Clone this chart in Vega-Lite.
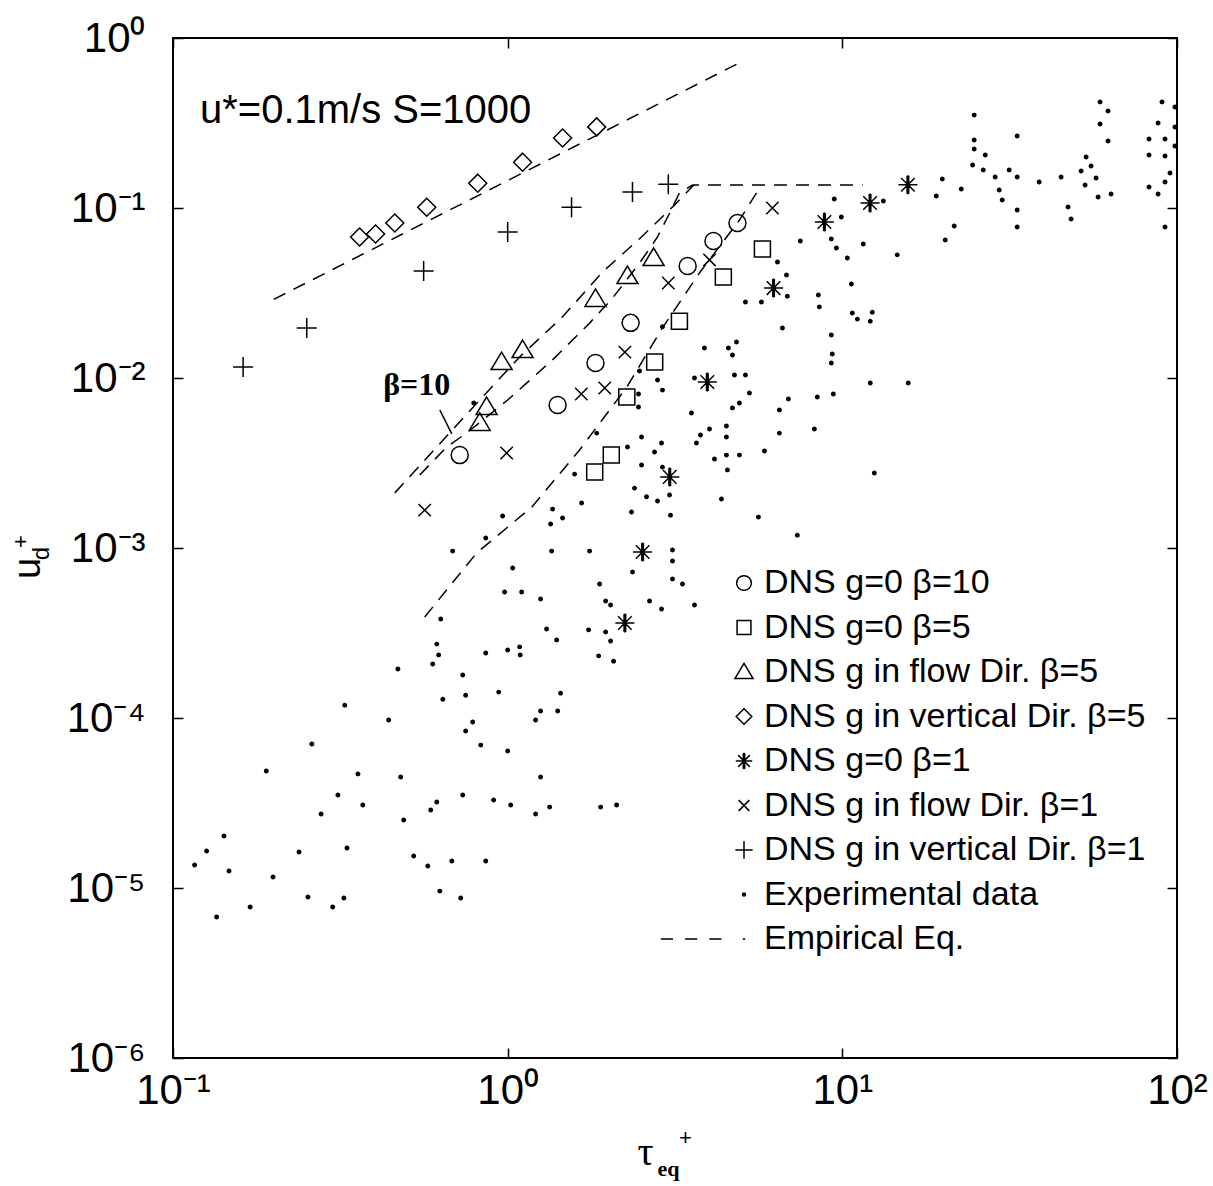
{
  "$schema": "https://vega.github.io/schema/vega-lite/v6.json",
  "width": 1004,
  "height": 1020,
  "autosize": {"type": "none"},
  "padding": {"left": 173, "top": 38, "right": 36, "bottom": 128},
  "background": "white",
  "config": {
    "view": {"stroke": "black", "strokeWidth": 2},
    "font": "Liberation Sans",
    "axis": {"labelColor": "black", "tickColor": "black", "titleColor": "black", "domain": false, "grid": false, "labelFlush": false, "labelOverlap": false, "tickWidth": 1.5}
  },
  "datasets": {
    "lines": [
      {"curve": "A", "tau": 0.2, "u": 0.029},
      {"curve": "A", "tau": 5.1, "u": 0.74},
      {"curve": "B", "tau": 0.46, "u": 0.00211},
      {"curve": "B", "tau": 0.614, "u": 0.00393},
      {"curve": "B", "tau": 0.825, "u": 0.00742},
      {"curve": "B", "tau": 1.086, "u": 0.0133},
      {"curve": "B", "tau": 1.459, "u": 0.0229},
      {"curve": "B", "tau": 1.92, "u": 0.042},
      {"curve": "B", "tau": 2.51, "u": 0.0675},
      {"curve": "B", "tau": 3.15, "u": 0.104},
      {"curve": "B", "tau": 3.6, "u": 0.1365},
      {"curve": "C", "tau": 0.546, "u": 0.00269},
      {"curve": "C", "tau": 0.658, "u": 0.00393},
      {"curve": "C", "tau": 0.76, "u": 0.00481},
      {"curve": "C", "tau": 1.0, "u": 0.00742},
      {"curve": "C", "tau": 1.36, "u": 0.01276},
      {"curve": "C", "tau": 1.76, "u": 0.0211},
      {"curve": "C", "tau": 2.06, "u": 0.0296},
      {"curve": "C", "tau": 2.48, "u": 0.0475},
      {"curve": "C", "tau": 2.79, "u": 0.0666},
      {"curve": "C", "tau": 3.05, "u": 0.0935},
      {"curve": "C", "tau": 3.26, "u": 0.1225},
      {"curve": "C", "tau": 3.57, "u": 0.1365},
      {"curve": "C", "tau": 11.5, "u": 0.1365},
      {"curve": "D", "tau": 0.565, "u": 0.000393},
      {"curve": "D", "tau": 0.808, "u": 0.000935},
      {"curve": "D", "tau": 1.18, "u": 0.00174},
      {"curve": "D", "tau": 1.64, "u": 0.00377},
      {"curve": "D", "tau": 2.27, "u": 0.00885},
      {"curve": "D", "tau": 2.9, "u": 0.0197},
      {"curve": "D", "tau": 3.74, "u": 0.0415},
      {"curve": "D", "tau": 4.93, "u": 0.085},
      {"curve": "D", "tau": 5.73, "u": 0.1365}
    ],
    "pts": [
      {"series": "DNS g=0 β=10", "tau": 0.719, "u": 0.00352},
      {"series": "DNS g=0 β=10", "tau": 1.41, "u": 0.00694},
      {"series": "DNS g=0 β=10", "tau": 1.83, "u": 0.01226},
      {"series": "DNS g=0 β=10", "tau": 2.33, "u": 0.0211},
      {"series": "DNS g=0 β=10", "tau": 3.45, "u": 0.0456},
      {"series": "DNS g=0 β=10", "tau": 4.12, "u": 0.064},
      {"series": "DNS g=0 β=10", "tau": 4.86, "u": 0.0816},
      {"series": "DNS g=0 β=5", "tau": 1.82, "u": 0.0028},
      {"series": "DNS g=0 β=5", "tau": 2.04, "u": 0.00352},
      {"series": "DNS g=0 β=5", "tau": 2.27, "u": 0.00773},
      {"series": "DNS g=0 β=5", "tau": 2.75, "u": 0.0124},
      {"series": "DNS g=0 β=5", "tau": 3.26, "u": 0.0216},
      {"series": "DNS g=0 β=5", "tau": 4.41, "u": 0.0393},
      {"series": "DNS g=0 β=5", "tau": 5.77, "u": 0.0574},
      {"series": "DNS g in flow Dir. β=5", "tau": 0.825, "u": 0.00544},
      {"series": "DNS g in flow Dir. β=5", "tau": 0.865, "u": 0.00675},
      {"series": "DNS g in flow Dir. β=5", "tau": 0.959, "u": 0.0124},
      {"series": "DNS g in flow Dir. β=5", "tau": 1.108, "u": 0.0146},
      {"series": "DNS g in flow Dir. β=5", "tau": 1.83, "u": 0.0292},
      {"series": "DNS g in flow Dir. β=5", "tau": 2.28, "u": 0.0398},
      {"series": "DNS g in flow Dir. β=5", "tau": 2.73, "u": 0.0508},
      {"series": "DNS g in vertical Dir. β=5", "tau": 0.361, "u": 0.0675},
      {"series": "DNS g in vertical Dir. β=5", "tau": 0.403, "u": 0.0703},
      {"series": "DNS g in vertical Dir. β=5", "tau": 0.46, "u": 0.0816},
      {"series": "DNS g in vertical Dir. β=5", "tau": 0.573, "u": 0.101},
      {"series": "DNS g in vertical Dir. β=5", "tau": 0.814, "u": 0.14},
      {"series": "DNS g in vertical Dir. β=5", "tau": 1.108, "u": 0.186},
      {"series": "DNS g in vertical Dir. β=5", "tau": 1.459, "u": 0.258},
      {"series": "DNS g in vertical Dir. β=5", "tau": 1.845, "u": 0.3},
      {"series": "DNS g=0 β=1", "tau": 2.24, "u": 0.000362},
      {"series": "DNS g=0 β=1", "tau": 2.53, "u": 0.000947},
      {"series": "DNS g=0 β=1", "tau": 3.05, "u": 0.00262},
      {"series": "DNS g=0 β=1", "tau": 3.95, "u": 0.00947},
      {"series": "DNS g=0 β=1", "tau": 6.23, "u": 0.0338},
      {"series": "DNS g=0 β=1", "tau": 8.84, "u": 0.0827},
      {"series": "DNS g=0 β=1", "tau": 12.1, "u": 0.107},
      {"series": "DNS g=0 β=1", "tau": 15.7, "u": 0.137},
      {"series": "DNS g in flow Dir. β=1", "tau": 0.565, "u": 0.00167},
      {"series": "DNS g in flow Dir. β=1", "tau": 0.993, "u": 0.00362},
      {"series": "DNS g in flow Dir. β=1", "tau": 1.66, "u": 0.00805},
      {"series": "DNS g in flow Dir. β=1", "tau": 1.95, "u": 0.00873},
      {"series": "DNS g in flow Dir. β=1", "tau": 2.24, "u": 0.0142},
      {"series": "DNS g in flow Dir. β=1", "tau": 3.02, "u": 0.0362},
      {"series": "DNS g in flow Dir. β=1", "tau": 4.01, "u": 0.0495},
      {"series": "DNS g in flow Dir. β=1", "tau": 6.18, "u": 0.1},
      {"series": "DNS g in vertical Dir. β=1", "tau": 0.162, "u": 0.0116},
      {"series": "DNS g in vertical Dir. β=1", "tau": 0.251, "u": 0.0197},
      {"series": "DNS g in vertical Dir. β=1", "tau": 0.561, "u": 0.0426},
      {"series": "DNS g in vertical Dir. β=1", "tau": 1.0, "u": 0.0722},
      {"series": "DNS g in vertical Dir. β=1", "tau": 1.552, "u": 0.101},
      {"series": "DNS g in vertical Dir. β=1", "tau": 2.36, "u": 0.124},
      {"series": "DNS g in vertical Dir. β=1", "tau": 3.02, "u": 0.138},
      {"series": "Experimental data", "tau": 0.116, "u": 1.365e-5},
      {"series": "Experimental data", "tau": 0.126, "u": 1.652e-5},
      {"series": "Experimental data", "tau": 0.142, "u": 2.023e-5},
      {"series": "Experimental data", "tau": 0.147, "u": 1.259e-5},
      {"series": "Experimental data", "tau": 0.135, "u": 6.75e-6},
      {"series": "Experimental data", "tau": 0.17, "u": 7.73e-6},
      {"series": "Experimental data", "tau": 0.199, "u": 1.161e-5},
      {"series": "Experimental data", "tau": 0.238, "u": 1.629e-5},
      {"series": "Experimental data", "tau": 0.253, "u": 8.85e-6},
      {"series": "Experimental data", "tau": 0.277, "u": 2.723e-5},
      {"series": "Experimental data", "tau": 0.311, "u": 3.524e-5},
      {"series": "Experimental data", "tau": 0.3, "u": 7.73e-6},
      {"series": "Experimental data", "tau": 0.324, "u": 8.73e-6},
      {"series": "Experimental data", "tau": 0.331, "u": 1.718e-5},
      {"series": "Experimental data", "tau": 0.369, "u": 3.076e-5},
      {"series": "Experimental data", "tau": 0.489, "u": 2.512e-5},
      {"series": "Experimental data", "tau": 0.524, "u": 1.542e-5},
      {"series": "Experimental data", "tau": 0.577, "u": 1.346e-5},
      {"series": "Experimental data", "tau": 0.589, "u": 2.877e-5},
      {"series": "Experimental data", "tau": 0.614, "u": 3.206e-5},
      {"series": "Experimental data", "tau": 0.627, "u": 9.59e-6},
      {"series": "Experimental data", "tau": 0.681, "u": 1.442e-5},
      {"series": "Experimental data", "tau": 0.724, "u": 8.73e-6},
      {"series": "Experimental data", "tau": 0.734, "u": 3.524e-5},
      {"series": "Experimental data", "tau": 0.86, "u": 1.442e-5},
      {"series": "Experimental data", "tau": 0.908, "u": 3.296e-5},
      {"series": "Experimental data", "tau": 1.021, "u": 3.076e-5},
      {"series": "Experimental data", "tau": 1.212, "u": 2.723e-5},
      {"series": "Experimental data", "tau": 1.335, "u": 2.992e-5},
      {"series": "Experimental data", "tau": 1.896, "u": 2.992e-5},
      {"series": "Experimental data", "tau": 2.116, "u": 3.076e-5},
      {"series": "Experimental data", "tau": 0.966, "u": 0.001542},
      {"series": "Experimental data", "tau": 1.362, "u": 0.001694},
      {"series": "Experimental data", "tau": 1.459, "u": 0.0015},
      {"series": "Experimental data", "tau": 1.344, "u": 0.001384},
      {"series": "Experimental data", "tau": 1.663, "u": 0.001841},
      {"series": "Experimental data", "tau": 0.86, "u": 0.001146},
      {"series": "Experimental data", "tau": 0.685, "u": 0.000959},
      {"series": "Experimental data", "tau": 1.353, "u": 0.000959},
      {"series": "Experimental data", "tau": 1.757, "u": 0.000959},
      {"series": "Experimental data", "tau": 1.035, "u": 0.000762},
      {"series": "Experimental data", "tau": 0.979, "u": 0.000551},
      {"series": "Experimental data", "tau": 1.101, "u": 0.000551},
      {"series": "Experimental data", "tau": 1.254, "u": 0.000501},
      {"series": "Experimental data", "tau": 1.883, "u": 0.000614},
      {"series": "Experimental data", "tau": 1.962, "u": 0.000488},
      {"series": "Experimental data", "tau": 2.03, "u": 0.000462},
      {"series": "Experimental data", "tau": 0.631, "u": 0.000382},
      {"series": "Experimental data", "tau": 1.307, "u": 0.000334},
      {"series": "Experimental data", "tau": 1.401, "u": 0.000288},
      {"series": "Experimental data", "tau": 1.745, "u": 0.00033},
      {"series": "Experimental data", "tau": 1.962, "u": 0.000321},
      {"series": "Experimental data", "tau": 2.03, "u": 0.000284},
      {"series": "Experimental data", "tau": 0.614, "u": 0.000272},
      {"series": "Experimental data", "tau": 0.622, "u": 0.000235},
      {"series": "Experimental data", "tau": 0.597, "u": 0.000208},
      {"series": "Experimental data", "tau": 0.86, "u": 0.000241},
      {"series": "Experimental data", "tau": 1.0, "u": 0.000251},
      {"series": "Experimental data", "tau": 1.086, "u": 0.000262},
      {"series": "Experimental data", "tau": 1.09, "u": 0.000235},
      {"series": "Experimental data", "tau": 1.87, "u": 0.000232},
      {"series": "Experimental data", "tau": 2.072, "u": 0.000216},
      {"series": "Experimental data", "tau": 0.47, "u": 0.000194},
      {"series": "Experimental data", "tau": 0.734, "u": 0.000179},
      {"series": "Experimental data", "tau": 0.326, "u": 0.000119},
      {"series": "Experimental data", "tau": 0.64, "u": 0.000129},
      {"series": "Experimental data", "tau": 0.749, "u": 0.000136},
      {"series": "Experimental data", "tau": 0.94, "u": 0.000142},
      {"series": "Experimental data", "tau": 1.439, "u": 0.00014},
      {"series": "Experimental data", "tau": 0.441, "u": 9.73e-5},
      {"series": "Experimental data", "tau": 0.786, "u": 9.47e-5},
      {"series": "Experimental data", "tau": 0.749, "u": 8.39e-5},
      {"series": "Experimental data", "tau": 1.212, "u": 9.73e-5},
      {"series": "Experimental data", "tau": 1.254, "u": 0.00011},
      {"series": "Experimental data", "tau": 1.411, "u": 0.00011},
      {"series": "Experimental data", "tau": 0.26, "u": 7.03e-5},
      {"series": "Experimental data", "tau": 0.831, "u": 6.93e-5},
      {"series": "Experimental data", "tau": 1.0, "u": 6.4e-5},
      {"series": "Experimental data", "tau": 0.19, "u": 4.88e-5},
      {"series": "Experimental data", "tau": 0.357, "u": 4.69e-5},
      {"series": "Experimental data", "tau": 0.479, "u": 4.5e-5},
      {"series": "Experimental data", "tau": 1.254, "u": 4.5e-5},
      {"series": "Experimental data", "tau": 0.792, "u": 0.00713},
      {"series": "Experimental data", "tau": 1.845, "u": 0.00474},
      {"series": "Experimental data", "tau": 1.585, "u": 0.00272},
      {"series": "Experimental data", "tau": 2.361, "u": 0.000723},
      {"series": "Experimental data", "tau": 3.108, "u": 0.000973},
      {"series": "Experimental data", "tau": 3.108, "u": 0.000839},
      {"series": "Experimental data", "tau": 3.108, "u": 0.000658},
      {"series": "Experimental data", "tau": 3.33, "u": 0.000614},
      {"series": "Experimental data", "tau": 2.345, "u": 0.00163},
      {"series": "Experimental data", "tau": 2.6, "u": 0.002},
      {"series": "Experimental data", "tau": 2.804, "u": 0.00189},
      {"series": "Experimental data", "tau": 3.066, "u": 0.00156},
      {"series": "Experimental data", "tau": 2.394, "u": 0.00225},
      {"series": "Experimental data", "tau": 3.045, "u": 0.00205},
      {"series": "Experimental data", "tau": 2.901, "u": 0.00299},
      {"series": "Experimental data", "tau": 2.747, "u": 0.00367},
      {"series": "Experimental data", "tau": 2.882, "u": 0.00415},
      {"series": "Experimental data", "tau": 2.512, "u": 0.00308},
      {"series": "Experimental data", "tau": 2.512, "u": 0.0045},
      {"series": "Experimental data", "tau": 2.281, "u": 0.00393},
      {"series": "Experimental data", "tau": 2.46, "u": 0.00805},
      {"series": "Experimental data", "tau": 2.46, "u": 0.00675},
      {"series": "Experimental data", "tau": 2.804, "u": 0.00973},
      {"series": "Experimental data", "tau": 2.901, "u": 0.00849},
      {"series": "Experimental data", "tau": 2.901, "u": 0.02},
      {"series": "Experimental data", "tau": 2.477, "u": 0.011},
      {"series": "Experimental data", "tau": 3.616, "u": 0.01},
      {"series": "Experimental data", "tau": 3.542, "u": 0.00622},
      {"series": "Experimental data", "tau": 3.767, "u": 0.00462},
      {"series": "Experimental data", "tau": 3.665, "u": 0.00415},
      {"series": "Experimental data", "tau": 4.009, "u": 0.00501},
      {"series": "Experimental data", "tau": 4.505, "u": 0.00522},
      {"series": "Experimental data", "tau": 4.505, "u": 0.0045},
      {"series": "Experimental data", "tau": 4.149, "u": 0.00334},
      {"series": "Experimental data", "tau": 4.505, "u": 0.00352},
      {"series": "Experimental data", "tau": 4.926, "u": 0.00352},
      {"series": "Experimental data", "tau": 4.536, "u": 0.00288},
      {"series": "Experimental data", "tau": 4.353, "u": 0.00194},
      {"series": "Experimental data", "tau": 5.851, "u": 0.00372},
      {"series": "Experimental data", "tau": 5.615, "u": 0.00152},
      {"series": "Experimental data", "tau": 7.338, "u": 0.00119},
      {"series": "Experimental data", "tau": 6.486, "u": 0.00474},
      {"series": "Experimental data", "tau": 8.25, "u": 0.00501},
      {"series": "Experimental data", "tau": 6.901, "u": 0.00752},
      {"series": "Experimental data", "tau": 8.42, "u": 0.00773},
      {"series": "Experimental data", "tau": 4.695, "u": 0.00667},
      {"series": "Experimental data", "tau": 4.926, "u": 0.00713},
      {"series": "Experimental data", "tau": 5.278, "u": 0.00817},
      {"series": "Experimental data", "tau": 4.76, "u": 0.01042},
      {"series": "Experimental data", "tau": 5.134, "u": 0.01042},
      {"series": "Experimental data", "tau": 3.873, "u": 0.015},
      {"series": "Experimental data", "tau": 4.567, "u": 0.015},
      {"series": "Experimental data", "tau": 4.695, "u": 0.01365},
      {"series": "Experimental data", "tau": 4.827, "u": 0.0163},
      {"series": "Experimental data", "tau": 6.622, "u": 0.0197},
      {"series": "Experimental data", "tau": 8.536, "u": 0.0262},
      {"series": "Experimental data", "tau": 5.134, "u": 0.028},
      {"series": "Experimental data", "tau": 5.731, "u": 0.028},
      {"series": "Experimental data", "tau": 6.486, "u": 0.00649},
      {"series": "Experimental data", "tau": 9.4, "u": 0.00805},
      {"series": "Experimental data", "tau": 9.27, "u": 0.01225},
      {"series": "Experimental data", "tau": 12.12, "u": 0.00935},
      {"series": "Experimental data", "tau": 12.46, "u": 0.00276},
      {"series": "Experimental data", "tau": 2.654, "u": 0.000488},
      {"series": "Experimental data", "tau": 2.882, "u": 0.000438},
      {"series": "Experimental data", "tau": 3.616, "u": 0.000462},
      {"series": "Experimental data", "tau": 15.74, "u": 0.00935},
      {"series": "Experimental data", "tau": 9.46, "u": 0.113},
      {"series": "Experimental data", "tau": 9.93, "u": 0.0885},
      {"series": "Experimental data", "tau": 9.27, "u": 0.0658},
      {"series": "Experimental data", "tau": 9.6, "u": 0.0582},
      {"series": "Experimental data", "tau": 10.35, "u": 0.0508},
      {"series": "Experimental data", "tau": 11.55, "u": 0.0614},
      {"series": "Experimental data", "tau": 10.64, "u": 0.0357},
      {"series": "Experimental data", "tau": 14.59, "u": 0.053},
      {"series": "Experimental data", "tau": 7.49, "u": 0.064},
      {"series": "Experimental data", "tau": 6.4, "u": 0.0481},
      {"series": "Experimental data", "tau": 6.81, "u": 0.0404},
      {"series": "Experimental data", "tau": 6.85, "u": 0.0303},
      {"series": "Experimental data", "tau": 8.48, "u": 0.0308},
      {"series": "Experimental data", "tau": 10.71, "u": 0.0241},
      {"series": "Experimental data", "tau": 11.09, "u": 0.0222},
      {"series": "Experimental data", "tau": 12.29, "u": 0.0244},
      {"series": "Experimental data", "tau": 12.12, "u": 0.0216},
      {"series": "Experimental data", "tau": 9.27, "u": 0.0179},
      {"series": "Experimental data", "tau": 9.33, "u": 0.01384},
      {"series": "Experimental data", "tau": 13.26, "u": 0.1099},
      {"series": "Experimental data", "tau": 19.09, "u": 0.1177},
      {"series": "Experimental data", "tau": 19.89, "u": 0.1483},
      {"series": "Experimental data", "tau": 22.66, "u": 0.1294},
      {"series": "Experimental data", "tau": 21.59, "u": 0.0784},
      {"series": "Experimental data", "tau": 20.3, "u": 0.0649},
      {"series": "Experimental data", "tau": 24.77, "u": 0.352},
      {"series": "Experimental data", "tau": 24.77, "u": 0.251},
      {"series": "Experimental data", "tau": 24.77, "u": 0.2225},
      {"series": "Experimental data", "tau": 26.73, "u": 0.205},
      {"series": "Experimental data", "tau": 24.5, "u": 0.179},
      {"series": "Experimental data", "tau": 26.37, "u": 0.1675},
      {"series": "Experimental data", "tau": 28.62, "u": 0.1521},
      {"series": "Experimental data", "tau": 29.43, "u": 0.1276},
      {"series": "Experimental data", "tau": 30.04, "u": 0.1114},
      {"series": "Experimental data", "tau": 31.51, "u": 0.1675},
      {"series": "Experimental data", "tau": 33.3, "u": 0.1521},
      {"series": "Experimental data", "tau": 33.3, "u": 0.2654},
      {"series": "Experimental data", "tau": 33.3, "u": 0.0973},
      {"series": "Experimental data", "tau": 33.3, "u": 0.0773},
      {"series": "Experimental data", "tau": 38.73, "u": 0.1422},
      {"series": "Experimental data", "tau": 45.05, "u": 0.1521},
      {"series": "Experimental data", "tau": 47.27, "u": 0.1014},
      {"series": "Experimental data", "tau": 48.26, "u": 0.0862},
      {"series": "Experimental data", "tau": 53.51, "u": 0.1995},
      {"series": "Experimental data", "tau": 55.38, "u": 0.1767},
      {"series": "Experimental data", "tau": 51.69, "u": 0.1652},
      {"series": "Experimental data", "tau": 53.14, "u": 0.1365},
      {"series": "Experimental data", "tau": 57.31, "u": 0.15},
      {"series": "Experimental data", "tau": 58.11, "u": 0.1161},
      {"series": "Experimental data", "tau": 63.53, "u": 0.1208},
      {"series": "Experimental data", "tau": 58.9, "u": 0.4207},
      {"series": "Experimental data", "tau": 62.23, "u": 0.3724},
      {"series": "Experimental data", "tau": 58.9, "u": 0.3119},
      {"series": "Experimental data", "tau": 62.23, "u": 0.2477},
      {"series": "Experimental data", "tau": 90.2, "u": 0.4207},
      {"series": "Experimental data", "tau": 87.8, "u": 0.3162},
      {"series": "Experimental data", "tau": 82.5, "u": 0.2547},
      {"series": "Experimental data", "tau": 92.1, "u": 0.2547},
      {"series": "Experimental data", "tau": 82.5, "u": 0.205},
      {"series": "Experimental data", "tau": 92.1, "u": 0.2023},
      {"series": "Experimental data", "tau": 95.3, "u": 0.1607},
      {"series": "Experimental data", "tau": 92.1, "u": 0.1422},
      {"series": "Experimental data", "tau": 82.5, "u": 0.133},
      {"series": "Experimental data", "tau": 87.8, "u": 0.1208},
      {"series": "Experimental data", "tau": 92.1, "u": 0.0773},
      {"series": "Experimental data", "tau": 98.6, "u": 0.3928},
      {"series": "Experimental data", "tau": 98.6, "u": 0.2994},
      {"series": "Experimental data", "tau": 98.6, "u": 0.2317}
    ],
    "note": [{"tau": 0.535, "u": 0.0091, "label": "β=10"}],
    "caption": [{"tau": 0.1204, "u": 0.316, "label": "u*=0.1m/s S=1000"}],
    "leader": [{"tau": 0.627, "u": 0.00648, "tau2": 0.681, "u2": 0.00469}]
  },
  "layer": [
    {
      "data": {"name": "lines"},
      "mark": {"type": "line", "stroke": "black", "strokeWidth": 1.5, "strokeDash": [13, 9]},
      "encoding": {
        "x": {"field": "tau", "type": "quantitative", "scale": {"type": "log", "domain": [0.1, 100], "nice": false},
          "axis": {"orient": "bottom", "values": [0.1, 1, 10, 100], "labelExpr": "'10' + replace(replace(replace(replace(replace(replace(replace(replace('' + round(log(datum.value) / LN10), '-', '⁻'), '0', '⁰'), '1', '¹'), '2', '²'), '3', '³'), '4', '⁴'), '5', '⁵'), '6', '⁶')", "labelFont": "Liberation Sans", "labelFontSize": 42, "labelPadding": 22, "tickSize": -10, "title": "τ", "titleFont": "Liberation Serif", "titleFontSize": 40, "titleFontWeight": "normal", "titleX": 472, "titleY": 94, "titleAlign": "center", "titleBaseline": "middle", "titleAngle": 0}},
        "y": {"field": "u", "type": "quantitative", "scale": {"type": "log", "domain": [1e-6, 1], "nice": false},
          "axis": {"orient": "left", "values": [1e-6, 1e-5, 1e-4, 1e-3, 1e-2, 1e-1, 1], "labelExpr": "'10' + replace(replace(replace(replace(replace(replace(replace(replace('' + round(log(datum.value) / LN10), '-', '⁻'), '0', '⁰'), '1', '¹'), '2', '²'), '3', '³'), '4', '⁴'), '5', '⁵'), '6', '⁶')", "labelFont": "Liberation Sans", "labelFontSize": 42, "labelPadding": 38, "tickSize": -10, "title": "u", "titleFont": "Liberation Sans", "titleFontSize": 38, "titleFontWeight": "normal", "titleX": -145, "titleY": 530, "titleAlign": "center", "titleBaseline": "middle", "titleAngle": -90}},
        "detail": {"field": "curve", "type": "nominal"}
      }
    },
    {
      "data": {"name": "pts"},
      "mark": {"type": "point", "filled": false, "stroke": "black", "strokeWidth": 1.5, "size": 400, "opacity": 1},
      "encoding": {
        "x": {"field": "tau", "type": "quantitative", "scale": {"type": "log", "domain": [0.1, 100], "nice": false},
          "axis": {"orient": "top", "values": [0.1, 1, 10, 100], "labels": false, "tickSize": -10, "title": "eq", "titleFont": "Liberation Serif", "titleFontSize": 22, "titleFontWeight": "bold", "titleX": 495, "titleY": 1130, "titleAlign": "center", "titleBaseline": "middle", "titleAngle": 0}},
        "y": {"field": "u", "type": "quantitative", "scale": {"type": "log", "domain": [1e-6, 1], "nice": false},
          "axis": {"orient": "right", "values": [1e-6, 1e-5, 1e-4, 1e-3, 1e-2, 1e-1, 1], "labels": false, "tickSize": -10, "title": "d", "titleFont": "Liberation Sans", "titleFontSize": 24, "titleFontWeight": "normal", "titleX": -1136, "titleY": 515, "titleAlign": "center", "titleBaseline": "middle", "titleAngle": -90}},
        "shape": {"field": "series", "type": "nominal",
          "scale": {
            "domain": ["DNS g=0 β=10", "DNS g=0 β=5", "DNS g in flow Dir. β=5", "DNS g in vertical Dir. β=5", "DNS g=0 β=1", "DNS g in flow Dir. β=1", "DNS g in vertical Dir. β=1", "Experimental data", "Empirical Eq."],
            "range": [
              "M-0.85,0A0.85,0.85,0,1,0,0.85,0A0.85,0.85,0,1,0,-0.85,0Z",
              "M-0.8,-0.8H0.8V0.8H-0.8Z",
              "M0,-1L1.05,0.75H-1.05Z",
              "M0,-0.9L0.9,0L0,0.9L-0.9,0Z",
              "M0,-0.95V0.95M-0.95,0H0.95M-0.68,-0.68L0.68,0.68M-0.68,0.68L0.68,-0.68M-0.08,-0.9V0.9M0.08,-0.9V0.9M-0.15,-0.15H0.15V0.15H-0.15Z",
              "M-0.62,-0.62L0.62,0.62M-0.62,0.62L0.62,-0.62",
              "M-1,0H1M0,-1V1",
              "M-0.17,0A0.17,0.17,0,1,0,0.17,0A0.17,0.17,0,1,0,-0.17,0ZM-0.06,0A0.06,0.06,0,1,0,0.06,0A0.06,0.06,0,1,0,-0.06,0Z",
              "M-9.6,0H-8.2M-6.8,0H-5.4M-4,0H-2.6M-0.15,0H0.15"
            ]
          },
          "legend": {"orient": "none", "legendX": 554, "legendY": 528, "title": null, "labelFont": "Liberation Sans", "labelFontSize": 34, "labelColor": "black", "labelLimit": 700, "symbolSize": 300, "symbolStrokeWidth": 1.5, "symbolStrokeColor": "black", "symbolFillColor": "transparent", "rowPadding": 10.5, "labelOffset": 3, "padding": 0, "symbolOffset": 0}
        }
      }
    },
    {
      "data": {"name": "note"},
      "mark": {"type": "text", "font": "Liberation Serif", "fontWeight": "bold", "fontSize": 32, "color": "black"},
      "encoding": {
        "x": {"field": "tau", "type": "quantitative", "scale": {"type": "log", "domain": [0.1, 100], "nice": false},
          "axis": {"orient": "bottom", "labels": false, "ticks": false, "title": "+", "titleFont": "Liberation Sans", "titleFontSize": 22, "titleFontWeight": "normal", "titleX": 512, "titleY": 79, "titleAlign": "center", "titleBaseline": "middle", "titleAngle": 0}},
        "y": {"field": "u", "type": "quantitative", "scale": {"type": "log", "domain": [1e-6, 1], "nice": false},
          "axis": {"orient": "left", "labels": false, "ticks": false, "title": "+", "titleFont": "Liberation Sans", "titleFontSize": 22, "titleFontWeight": "normal", "titleX": -153, "titleY": 503, "titleAlign": "center", "titleBaseline": "middle", "titleAngle": -90}},
        "text": {"field": "label", "type": "nominal"}
      }
    },
    {
      "data": {"name": "caption"},
      "mark": {"type": "text", "font": "Liberation Sans", "fontSize": 40, "color": "black", "align": "left", "baseline": "alphabetic"},
      "encoding": {
        "x": {"field": "tau", "type": "quantitative", "scale": {"type": "log", "domain": [0.1, 100], "nice": false}, "axis": null},
        "y": {"field": "u", "type": "quantitative", "scale": {"type": "log", "domain": [1e-6, 1], "nice": false}, "axis": null},
        "text": {"field": "label", "type": "nominal"}
      }
    },
    {
      "data": {"name": "leader"},
      "mark": {"type": "rule", "stroke": "black", "strokeWidth": 1.5},
      "encoding": {
        "x": {"field": "tau", "type": "quantitative", "scale": {"type": "log", "domain": [0.1, 100], "nice": false}, "axis": null},
        "y": {"field": "u", "type": "quantitative", "scale": {"type": "log", "domain": [1e-6, 1], "nice": false}, "axis": null},
        "x2": {"field": "tau2"},
        "y2": {"field": "u2"}
      }
    }
  ],
  "resolve": {"axis": {"x": "independent", "y": "independent"}}
}
